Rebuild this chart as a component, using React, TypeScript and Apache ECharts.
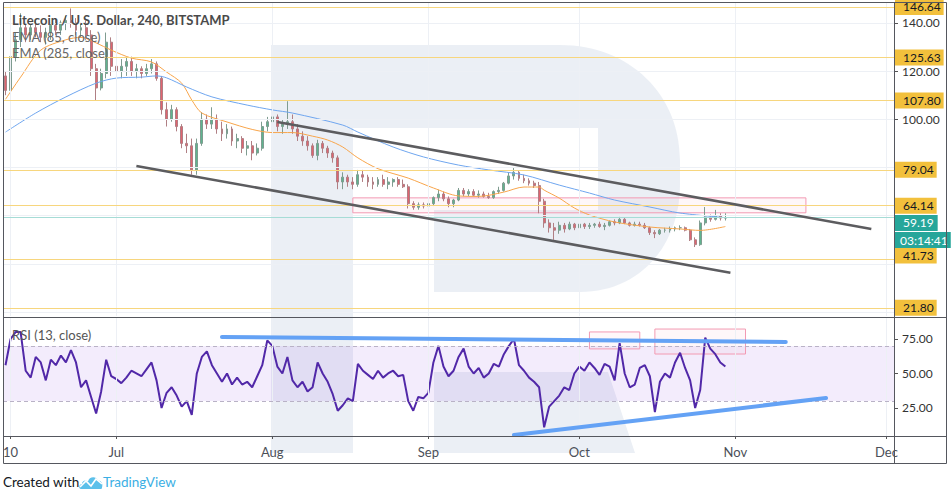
import React, { useEffect, useRef } from "react";
import * as echarts from "echarts";

// ---------------- data ----------------
const firstDay = "2019-06-09";
const dayCount = 177; // Jun 9 .. Dec 2 (one category per day)

// daily candles [open, high, low, close], from Jun 9
const candles: number[][] = [
  [118, 120, 110, 112], [112, 128, 111, 126], [126, 136, 124, 133], [133, 144, 130, 138],
  [138, 140, 132, 135], [135, 140, 133, 138], [138, 141, 134, 136], [136, 139, 132, 134],
  [134, 138, 131, 136], [136, 140, 133, 139], [139, 142, 135, 137], [137, 141, 135, 140],
  [140, 143, 137, 141], [141, 146, 138, 140], [140, 142, 135, 137], [137, 140, 134, 138],
  [138, 141, 133, 135], [135, 137, 118, 121], [121, 123, 108, 113], [113, 121, 112, 119],
  [119, 136, 117, 132], [132, 134, 118, 122], [122, 125, 112, 120], [120, 125, 117, 122],
  [122, 126, 118, 124], [124, 126, 118, 120], [120, 123, 117, 121], [121, 122, 117, 119],
  [119, 123, 118, 121], [121, 125, 119, 123], [123, 124, 116, 117], [117, 118, 102, 104],
  [104, 107, 97, 100], [100, 106, 99, 104], [104, 105, 95, 97], [97, 98, 88, 90],
  [90, 94, 86, 89], [89, 92, 77, 79], [79, 92, 77, 90], [90, 103, 89, 100],
  [100, 102, 96, 98], [98, 105, 96, 100], [100, 102, 94, 96], [96, 99, 91, 94],
  [94, 98, 92, 96], [96, 97, 89, 91], [91, 94, 88, 92], [92, 93, 86, 88],
  [88, 91, 85, 89], [89, 91, 83, 86], [86, 90, 85, 88], [88, 99, 87, 97],
  [97, 101, 95, 99], [99, 103, 96, 101], [101, 102, 95, 97], [97, 100, 94, 98],
  [98, 107.5, 96, 99], [99, 102, 94, 96], [96, 98, 91, 93], [93, 95, 89, 91],
  [91, 93, 87, 89], [89, 90, 84, 85], [85, 91.5, 83, 90], [90, 91, 86, 88],
  [88, 89, 84, 86], [86, 87, 82, 84], [84, 85, 71, 74], [74, 78, 71, 76],
  [76, 77, 72, 74], [74, 76, 71, 73], [73, 79, 72, 77], [77, 79, 74, 76],
  [76, 77, 72, 74], [74, 76, 71, 73], [73, 76, 72, 75], [75, 77, 72, 73],
  [73, 76, 71, 74], [74, 75.5, 72, 75], [75, 76, 72, 73], [73, 75, 71.5, 72],
  [72, 73, 63, 65], [65, 66, 62.5, 63.5], [63.5, 65.5, 62.5, 64.5], [64.5, 65.5, 63, 64],
  [64, 66, 63, 65], [65, 68, 64, 67.5], [67.5, 70.8, 66, 69], [69, 70, 66, 67],
  [67, 68, 63.5, 65], [65, 67, 63.5, 66.5], [66.5, 71.5, 66, 70.5], [70.5, 71.5, 68, 69],
  [69, 71, 68, 70], [70, 71, 68, 68.5], [68.5, 70.5, 67.5, 69], [69, 70, 67.5, 68],
  [68, 69.5, 67, 67.5], [67.5, 70.5, 67, 70], [70, 72, 69, 70.5], [70.5, 74, 70, 73.5],
  [73.5, 78, 73, 76.5], [76.5, 80.2, 75, 78], [78, 78.5, 74.5, 75.5], [75.5, 77, 73.5, 74.5],
  [74.5, 75.5, 72.5, 73.5], [73.5, 74.5, 71.5, 72.5], [72.5, 74, 61, 66], [66, 67, 55, 57],
  [57, 58.5, 53, 55], [55, 57, 50, 54], [54, 57.5, 52.5, 56], [56, 57, 53, 54.5],
  [54.5, 57.5, 54, 56.5], [56.5, 57, 54, 55], [55, 57.5, 54.5, 56.5], [56.5, 57, 54.5, 55.5],
  [55.5, 57, 54.5, 56], [56, 57, 55, 56.5], [56.5, 57.5, 55, 55.5], [55.5, 57, 54, 56],
  [56, 58, 55.5, 57.5], [57.5, 58.5, 56, 57], [57, 59.5, 56.5, 58.5], [58.5, 59, 56.5, 57],
  [57, 57.5, 55.5, 56], [56, 57.5, 55.5, 56.5], [56.5, 57.5, 55.5, 56], [56, 57, 54.5, 55],
  [55, 55.5, 52, 53], [53, 54, 50.7, 52.5], [52.5, 54.5, 52, 54], [54, 55, 53, 54],
  [54, 55.5, 53, 54.5], [54.5, 55.5, 53.5, 55], [55, 56, 54, 55], [55, 55.5, 53.5, 54],
  [54, 54.5, 49.5, 50], [50, 51, 47, 48], [48, 58, 47.5, 57], [57, 63.6, 56, 59.5],
  [59.5, 60.5, 57.5, 58.5], [58.5, 62.4, 58, 60], [60, 61, 58, 59], [59, 61, 58, 59.19],
];

// RSI(13), one value per day from Jun 9
const rsiValues: number[] = [
  56, 75, 80, 80, 52, 47, 62, 58, 45, 60,
  56, 63, 58, 67, 58, 40, 45, 33, 21, 37,
  60, 48, 46, 43, 47, 52, 50, 48, 53, 58,
  45, 25, 36, 40, 34, 26, 30, 20, 50, 62,
  66, 56, 50, 44, 50, 42, 47, 42, 44, 40,
  48, 56, 74, 70, 55, 50, 62, 45, 40, 44,
  37, 40, 58, 50, 44, 35, 23, 27, 32, 30,
  57, 52, 49, 46, 52, 47, 50, 52, 48, 49,
  30, 23, 33, 32, 36, 58, 70, 55, 48, 52,
  62, 68, 55, 50, 54, 47, 50, 57, 55, 64,
  70, 75, 56, 52, 47, 44, 40, 11, 26, 30,
  34, 40, 38, 50, 55, 52, 58, 54, 49, 57,
  55, 45, 72, 50, 40, 42, 54, 56, 48, 22,
  44, 50, 47, 58, 65, 54, 45, 25, 38, 76,
  68, 64, 58, 55,
];

const ema85: [string, number][] = [
  ["2019-06-09", 108.3], ["2019-06-12", 117.5], ["2019-06-16", 128.7], ["2019-06-21", 133],
  ["2019-06-24", 134], ["2019-06-27", 131.7], ["2019-06-30", 128.7], ["2019-07-04", 125.4],
  ["2019-07-08", 123.8], ["2019-07-11", 119.6], ["2019-07-14", 115], ["2019-07-16", 108],
  ["2019-07-18", 102.6], ["2019-07-23", 98.9], ["2019-07-28", 95.8], ["2019-08-01", 94.5],
  ["2019-08-05", 94.5], ["2019-08-09", 93], ["2019-08-12", 91.4], ["2019-08-15", 88.5],
  ["2019-08-18", 84], ["2019-08-22", 79.5], ["2019-08-28", 75.6], ["2019-09-02", 71.5],
  ["2019-09-07", 68.2], ["2019-09-11", 68], ["2019-09-16", 69.8], ["2019-09-20", 71.9],
  ["2019-09-23", 71.9], ["2019-09-24", 70.6], ["2019-09-27", 67.3], ["2019-09-30", 63.2],
  ["2019-10-03", 60.3], ["2019-10-08", 57.4], ["2019-10-15", 55.3], ["2019-10-21", 54.5],
  ["2019-10-25", 53.9], ["2019-10-30", 55.5],
];

const ema285: [string, number][] = [
  ["2019-06-09", 94.7], ["2019-06-15", 102.6], ["2019-06-21", 109.3], ["2019-06-27", 115],
  ["2019-07-01", 117.1], ["2019-07-06", 117.5], ["2019-07-09", 118], ["2019-07-11", 117.2],
  ["2019-07-15", 113.4], ["2019-07-20", 109.3], ["2019-07-27", 105.9], ["2019-08-01", 103.9],
  ["2019-08-05", 102.6], ["2019-08-15", 97.6], ["2019-08-18", 94.7], ["2019-08-25", 88.5],
  ["2019-08-31", 84.4], ["2019-09-07", 81], ["2019-09-13", 79], ["2019-09-20", 76.9],
  ["2019-09-27", 72.7], ["2019-10-03", 69.4], ["2019-10-08", 66.5], ["2019-10-15", 63.6],
  ["2019-10-21", 61.1], ["2019-10-30", 59.2],
];

const levels = [146.64, 125.63, 107.8, 79.04, 64.14, 41.73, 21.8];
const lastPrice = 59.19;
const countdown = "03:14:41";
const priceTicks = [100, 120, 140];
const priceGrid = [20, 40, 60, 80, 100, 120, 140];
const rsiTicks = [25, 50, 75];
const rsiBand = [30, 70];

const channelUpper: [string, number][] = [["2019-08-02", 98.9], ["2019-11-28", 54.5]];
const channelLower: [string, number][] = [["2019-07-05", 80.6], ["2019-10-31", 36.3]];
const priceZone: [string, number][] = [["2019-08-17", 67.4], ["2019-11-15", 61.2]];
const rsiUpper: [string, number][] = [["2019-07-22", 76.4], ["2019-11-11", 72.8]];
const rsiLower: [string, number][] = [["2019-09-18", 5.4], ["2019-11-19", 32.2]];
const rsiZones: [string, number][][] = [
  [["2019-10-03", 80.1], ["2019-10-13", 67.8]],
  [["2019-10-16", 82.2], ["2019-11-03", 64.1]],
];

// ---------------- helpers ----------------
function buildCategories(): string[] {
  const start = Date.parse(firstDay + "T00:00:00Z");
  const out: string[] = [];
  for (let i = 0; i < dayCount; i++) out.push(new Date(start + i * 86400000).toISOString().slice(0, 10));
  return out;
}
const categories = buildCategories();
const MONTHS = ["Jan", "Feb", "Mar", "Apr", "May", "Jun", "Jul", "Aug", "Sep", "Oct", "Nov", "Dec"];
const isMarkDay = (v: string) => v.endsWith("-01") || v === "2019-06-10";
const dayLabel = (v: string) => (v.endsWith("-01") ? MONTHS[+v.slice(5, 7) - 1] : String(+v.slice(8)));
const markDays = categories.filter(isMarkDay);

const R_PATH =
  "M271 45 L560 45 C630 45 680 95 680 160 L680 185 C680 245 640 292 580 292 L434 292 L434 210 L598 210 L598 128 L353 128 L353 453 L271 453 Z M434 372 L608 372 L635 453 L434 453 Z";
const TV_PATH = "M2 15 C-0.5 15 -0.5 10.5 3 10 C3 6.5 7 5.5 9 7.5 C10 2.5 17 1.5 19 6.5 C23 6.5 24.5 11 22.5 15 Z";

echarts.graphic.registerShape("rLogo", echarts.graphic.extendPath(R_PATH, {}));
echarts.graphic.registerShape("tvLogo", echarts.graphic.extendPath(TV_PATH, {}));

const FONT = "Lato";

function buildOption() {
  const levelBox = {
    show: true,
    position: "end",
    distance: 1,
    color: "#131722",
    backgroundColor: "#f2c03c",
    padding: [1, 3, 1, 8],
    fontSize: 12,
    lineHeight: 14,
    fontFamily: FONT,
  };
  const tealBox = { ...levelBox, color: "#ffffff", backgroundColor: "#26a69a", padding: [1, 4, 1, 8] };
  const hidden = { color: "rgba(0,0,0,0)", width: 0 };
  const labelShift: Record<string, number> = { "41.73": 1.75 };

  const priceLines: any[] = [];
  levels.forEach((v) => {
    const shift = labelShift[v.toFixed(2)];
    const line = { color: "#f7d67e", width: 1, type: "solid" };
    if (shift) {
      priceLines.push({ yAxis: v, lineStyle: line, label: { show: false } });
      priceLines.push({ yAxis: v + shift, lineStyle: hidden, label: { ...levelBox, formatter: v.toFixed(2) } });
    } else {
      priceLines.push({ yAxis: v, lineStyle: line, label: { ...levelBox, formatter: v.toFixed(2) } });
    }
  });
  priceLines.push({ yAxis: lastPrice, lineStyle: { color: "#a6dcd6", width: 1, type: "solid" }, label: { show: false } });
  priceLines.push({ yAxis: lastPrice - 2.2, lineStyle: hidden, label: { ...tealBox, formatter: lastPrice.toFixed(2) } });
  priceLines.push({ yAxis: lastPrice - 9.3, lineStyle: hidden, label: { ...tealBox, padding: [1, 3, 1, 5], formatter: countdown } });
  const trend = { color: "#5c5c5f", width: 2.6, type: "solid" };
  priceLines.push([{ coord: channelUpper[0], lineStyle: trend, label: { show: false } }, { coord: channelUpper[1] }]);
  priceLines.push([{ coord: channelLower[0], lineStyle: trend, label: { show: false } }, { coord: channelLower[1] }]);

  const blue = { color: "#64a2f5", width: 4, type: "solid", cap: "round" };
  const pinkArea = { color: "rgba(244,143,177,0.07)", borderColor: "#f39ab3", borderWidth: 1 };
  const faint = { color: "#edf0f5", width: 1, type: "solid" };

  return {
    animation: false,
    backgroundColor: "#ffffff",
    textStyle: { fontFamily: FONT },
    grid: [
      { left: 3, width: 891, top: 3, height: 313 },
      { left: 3, width: 891, top: 318, height: 118 },
    ],
    xAxis: [
      {
        type: "category", gridIndex: 0, data: categories, boundaryGap: true,
        axisLine: { show: false }, axisTick: { show: false }, axisLabel: { show: false }, splitLine: { show: false },
      },
      {
        type: "category", gridIndex: 1, data: categories, boundaryGap: true,
        axisLine: { show: false },
        axisTick: { show: true, alignWithLabel: true, length: 3, interval: (_i: number, v: string) => isMarkDay(v), lineStyle: { color: "#555" } },
        axisLabel: {
          interval: (_i: number, v: string) => isMarkDay(v), formatter: (v: string) => dayLabel(v),
          color: "#4c4f58", fontSize: 13, margin: 9, fontFamily: FONT,
        },
        splitLine: { show: false },
      },
    ],
    yAxis: [
      {
        type: "value", gridIndex: 0, position: "right", min: 18.38, max: 148.26,
        axisLine: { show: false },
        axisTick: { show: true, customValues: priceTicks, length: 4, lineStyle: { color: "#555" } },
        axisLabel: { customValues: priceTicks, formatter: (v: number) => v.toFixed(2), color: "#333", fontSize: 12, margin: 8, fontFamily: FONT },
        splitLine: { show: false },
      },
      {
        type: "value", gridIndex: 1, position: "right", min: 4.7, max: 90.2,
        axisLine: { show: false },
        axisTick: { show: true, customValues: rsiTicks, length: 4, lineStyle: { color: "#555" } },
        axisLabel: { customValues: rsiTicks, formatter: (v: number) => v.toFixed(2), color: "#333", fontSize: 12, margin: 8, fontFamily: FONT },
        splitLine: { show: false },
      },
    ],
    graphic: {
      elements: [
        { type: "rLogo", x: 0, y: 0, z: -10, silent: true, style: { fill: "rgba(183,197,220,0.28)" } },
        { type: "rect", z: 100, silent: true, shape: { x: 3.5, y: 2.5, width: 943, height: 461 }, style: { fill: "none", stroke: "#55575e", lineWidth: 1 } },
        { type: "line", z: 100, silent: true, shape: { x1: 894.5, y1: 2.5, x2: 894.5, y2: 463.5 }, style: { stroke: "#55575e", lineWidth: 1 } },
        { type: "line", z: 100, silent: true, shape: { x1: 3.5, y1: 317.5, x2: 946.5, y2: 317.5 }, style: { stroke: "#55575e", lineWidth: 1 } },
        { type: "line", z: 100, silent: true, shape: { x1: 3.5, y1: 436.5, x2: 946.5, y2: 436.5 }, style: { stroke: "#55575e", lineWidth: 1 } },
        { type: "text", z: 50, x: 12, y: 20, style: { text: "Litecoin / U.S. Dollar, 240, BITSTAMP", fontFamily: FONT, fontSize: 13, fontWeight: "bold", fill: "#4a4a4a", verticalAlign: "middle" } },
        { type: "text", z: 50, x: 12, y: 37, style: { text: "EMA (85, close)", fontFamily: FONT, fontSize: 13, fill: "#666", verticalAlign: "middle" } },
        { type: "text", z: 50, x: 12, y: 53, style: { text: "EMA (285, close)", fontFamily: FONT, fontSize: 13, fill: "#666", verticalAlign: "middle" } },
        { type: "text", z: 50, x: 12, y: 335, style: { text: "RSI (13, close)", fontFamily: FONT, fontSize: 13, fill: "#555", verticalAlign: "middle" } },
        { type: "text", z: 50, x: 3, y: 482, style: { text: "Created with", fontFamily: FONT, fontSize: 13.5, fill: "#131722", verticalAlign: "middle" } },
        { type: "tvLogo", z: 50, x: 79, y: 474, style: { fill: "#5cc0ea" } },
        { type: "polyline", z: 51, shape: { points: [[80, 487], [86, 481], [91, 486], [96, 479], [102, 484]] }, style: { stroke: "#ffffff", lineWidth: 1.6, fill: "none" } },
        { type: "text", z: 50, x: 103, y: 482, style: { text: "TradingView", fontFamily: FONT, fontSize: 13.5, fill: "#3bafe4", verticalAlign: "middle" } },
      ],
    },
    series: [
      {
        name: "priceGrid", type: "line", xAxisIndex: 0, yAxisIndex: 0, data: categories.map(() => null), z: 1, silent: true, showSymbol: false,
        markLine: {
          silent: true, symbol: ["none", "none"], label: { show: false }, lineStyle: faint,
          data: [...priceGrid.map((p) => ({ yAxis: p })), ...markDays.map((d) => ({ xAxis: d }))],
        },
      },
      {
        name: "rsiGrid", type: "line", xAxisIndex: 1, yAxisIndex: 1, data: categories.map(() => null), z: 1, silent: true, showSymbol: false,
        markArea: { silent: true, itemStyle: { color: "rgba(150,80,230,0.11)" }, data: [[{ yAxis: rsiBand[0] }, { yAxis: rsiBand[1] }]] },
        markLine: {
          silent: true, symbol: ["none", "none"], label: { show: false },
          data: [
            ...markDays.map((d) => ({ xAxis: d, lineStyle: faint })),
            ...rsiBand.map((v) => ({ yAxis: v, lineStyle: { color: "#b9b2c6", width: 1, type: [4, 3] } })),
          ],
        },
      },
      {
        name: "LTCUSD", type: "candlestick", xAxisIndex: 0, yAxisIndex: 0, z: 2, barWidth: 2.4,
        data: candles.map(([o, h, l, c]) => [o, c, l, h]),
        itemStyle: { color: "#5fb48f", color0: "#e06470", borderColor: "#7f9c90", borderColor0: "#b07f84", borderWidth: 1 },
        markLine: { silent: true, symbol: ["none", "none"], label: { show: false }, data: priceLines },
        markArea: {
          silent: true, itemStyle: pinkArea,
          data: [[{ xAxis: priceZone[0][0], yAxis: priceZone[0][1] }, { xAxis: priceZone[1][0], yAxis: priceZone[1][1] }]],
        },
      },
      {
        name: "EMA85", type: "line", xAxisIndex: 0, yAxisIndex: 0, data: ema85, smooth: 0.3, showSymbol: false, z: 3,
        lineStyle: { color: "#f8a54b", width: 1 }, silent: true,
      },
      {
        name: "EMA285", type: "line", xAxisIndex: 0, yAxisIndex: 0, data: ema285, smooth: 0.3, showSymbol: false, z: 3,
        lineStyle: { color: "#6fa6ef", width: 1 }, silent: true,
      },
      {
        name: "RSI", type: "line", xAxisIndex: 1, yAxisIndex: 1, data: rsiValues, showSymbol: false, z: 3, silent: true,
        lineStyle: { color: "#5128a8", width: 2 },
        markLine: {
          silent: true, symbol: ["none", "none"], label: { show: false },
          data: [
            [{ coord: rsiUpper[0], lineStyle: blue }, { coord: rsiUpper[1] }],
            [{ coord: rsiLower[0], lineStyle: blue }, { coord: rsiLower[1] }],
          ],
        },
        markArea: {
          silent: true, itemStyle: pinkArea,
          data: rsiZones.map((z) => [{ xAxis: z[0][0], yAxis: z[0][1] }, { xAxis: z[1][0], yAxis: z[1][1] }]),
        },
      },
    ],
  };
}

export default function App() {
  const ref = useRef<HTMLDivElement>(null);
  useEffect(() => {
    if (!ref.current) return;
    const chart = echarts.init(ref.current, undefined, { renderer: "svg" });
    chart.setOption(buildOption() as any);
    return () => chart.dispose();
  }, []);
  return <div ref={ref} style={{ position: "absolute", left: 0, top: 0, width: 951, height: 500 }} />;
}
